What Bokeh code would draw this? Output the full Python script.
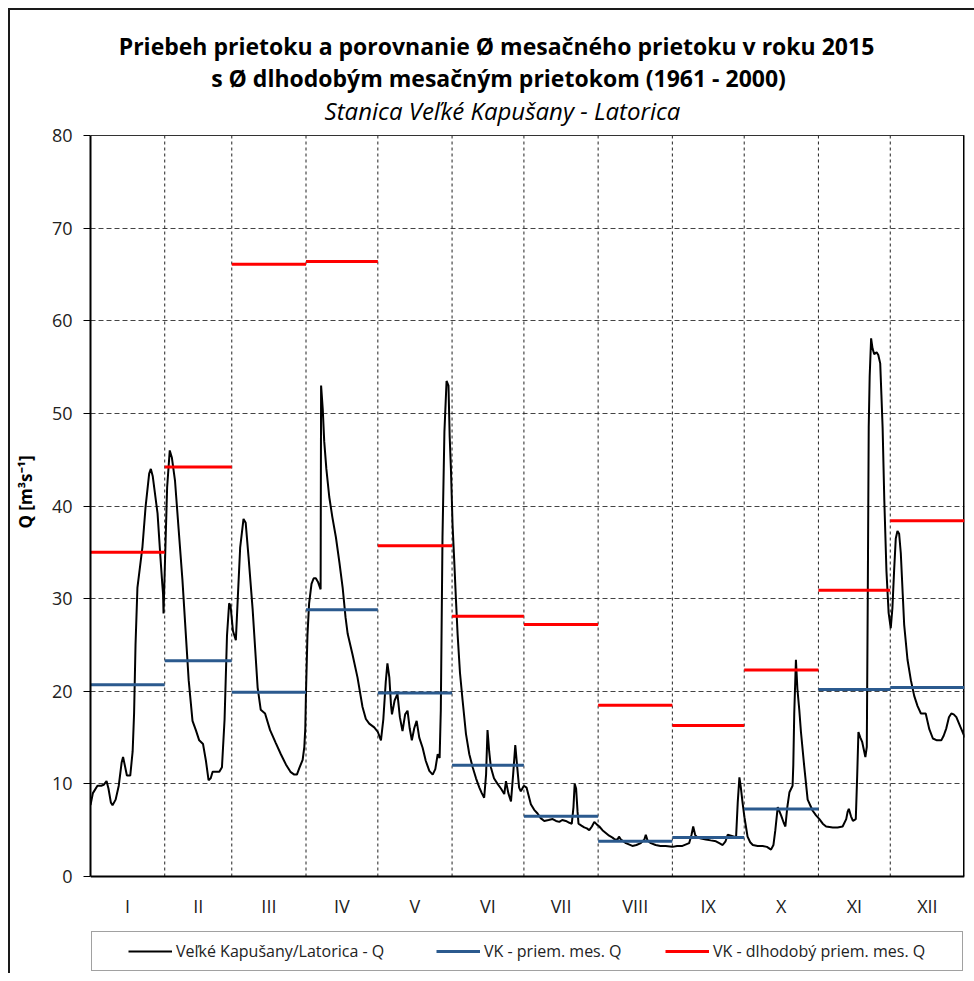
import math
import numpy as np
from bokeh.plotting import figure
from bokeh.models import Range1d, FixedTicker, Label, Legend, LegendItem
from bokeh.embed import file_html
from bokeh.resources import INLINE

# ---------------- data ----------------
months = ["I", "II", "III", "IV", "V", "VI", "VII", "VIII", "IX", "X", "XI", "XII"]
month_days = [31, 28, 31, 30, 31, 30, 31, 31, 30, 31, 30, 31]

# monthly mean discharge 2015 (VK - priem. mes. Q)
q_month_2015 = [20.7, 23.3, 19.9, 28.8, 19.8, 12.0, 6.5, 3.8, 4.2, 7.3, 20.2, 20.4]
# long-term monthly mean discharge 1961-2000 (VK - dlhodobý priem. mes. Q)
q_month_longterm = [35.0, 44.2, 66.1, 66.4, 35.7, 28.1, 27.2, 18.5, 16.3, 22.3, 30.9, 38.4]

# daily discharge hydrograph (day of year, Q)
q_day = [0, 1, 2.9, 4.5, 5.5, 6.7, 7.5, 8.5, 9.2, 10.5, 11.8, 13.0, 13.6, 14.5, 15.2, 16.6, 17.6, 18.2, 18.8,
         19.6, 21.7, 23.0, 24.5, 25.2, 26.0, 28.0, 29.3, 30.0, 30.3, 30.5, 31.0, 32.0, 33.1, 34.0, 35.3, 36.8,
         38.4, 39.6, 41.0, 42.6, 44.0, 45.4, 47.0, 48.2, 49.3, 50.2, 51.0, 53.8, 54.9, 56.0, 57.0, 57.9, 58.5,
         59.5, 60.7, 61.5, 62.5, 63.9, 64.8, 66.0, 67.7, 69.8, 71.1, 72.9, 75.0, 77.4, 79.5, 81.6, 83.5, 85.1,
         86.2, 87.2, 88.6, 89.3, 89.7, 90.0, 90.6, 91.3, 92.3, 93.2, 94.1, 95.0, 96.1, 96.3, 97.0, 97.6, 98.5,
         99.7, 101.0, 102.5, 104.0, 105.3, 106.5, 107.4, 109.4, 111.5, 113.6, 115.0, 116.4, 118.5, 120.0,
         121.3, 122.3, 123.3, 124.0, 124.8, 125.5, 125.9, 127.0, 128.2, 129.2, 130.3, 131.4, 132.4, 133.3,
         134.2, 135.2, 136.2, 137.3, 138.7, 140.0, 141.5, 142.9, 144.0, 145.0, 145.8, 146.3, 147.0, 147.8,
         148.7, 149.5, 150.0, 150.5, 151.2, 151.9, 152.6, 153.3, 154.3, 155.4, 156.8, 158.2, 159.6, 161.0,
         162.4, 163.4, 164.4, 165.2, 165.8, 166.5, 167.2, 168.5, 170.0, 171.4, 172.8, 173.5, 174.5, 175.6,
         176.5, 177.4, 178.0, 179.0, 179.7, 181.0, 182.1, 183.9, 185.3, 186.7, 188.0, 189.5, 191.3, 193.0,
         194.4, 195.8, 197.0, 198.5, 200.0, 201.0, 201.7, 202.2, 202.8, 203.4, 203.8, 205.0, 206.2, 207.3,
         208.3, 209.4, 210.4, 211.5, 212.5, 213.8, 215.2, 216.6, 218.0, 219.0, 220.1, 220.7, 221.5, 223.6,
         226.3, 228.0, 229.8, 231.3, 231.9, 232.6, 234.0, 236.0, 238.0, 240.2, 243.0, 245.0, 247.2, 250.0,
         251.0, 251.7, 252.5, 253.5, 255.0, 257.0, 259.0, 261.2, 262.6, 264.0, 265.2, 266.1, 267.5, 268.9,
         269.6, 270.3, 271.0, 271.6, 272.3, 273.1, 274.4, 275.5, 276.6, 278.6, 280.7, 282.5, 284.2, 285.2,
         286.0, 287.0, 288.4, 289.5, 290.2, 291.0, 291.9, 293.2, 293.5, 293.9, 294.6, 295.2, 296.0, 296.7,
         298.1, 299.5, 301.6, 303.0, 304.4, 305.8, 307.2, 310.0, 312.0, 314.1, 315.6, 316.2, 316.7, 317.6,
         318.4, 319.6, 320.2, 320.7, 321.5, 322.3, 323.6, 324.2, 324.6, 325.0, 325.4, 326.0, 326.6, 327.3,
         328.3, 329.0, 329.8, 330.3, 330.8, 331.5, 332.4, 333.3, 334.2, 334.9, 335.6, 336.3, 337.0, 337.7,
         338.4, 339.2, 339.8, 341.2, 342.6, 344.0, 345.4, 346.8, 348.8, 350.3, 351.8, 353.5, 355.3, 356.3,
         357.4, 358.5, 359.5, 360.5, 361.6, 363.2, 364.7, 365.0]
q_val = [7.7, 9.0, 9.8, 9.8, 9.9, 10.3, 9.5, 8.0, 7.7, 8.3, 9.8, 12.3, 12.9, 11.8, 10.9, 10.9, 13.5, 17.6, 25.0,
         31.2, 35.6, 39.9, 43.5, 44.0, 43.2, 39.2, 34.1, 31.5, 30.5, 28.4, 33.0, 42.0, 46.0, 45.2, 42.7, 37.5,
         32.0, 27.0, 21.2, 16.8, 15.8, 14.7, 14.3, 12.5, 10.4, 10.6, 11.3, 11.3, 11.8, 17.0, 26.0, 29.5, 29.2,
         26.5, 25.5, 30.0, 35.5, 38.6, 38.2, 34.5, 28.9, 20.4, 18.0, 17.6, 15.8, 14.4, 13.2, 12.1, 11.3, 11.0,
         11.0, 11.7, 12.6, 14.0, 16.0, 20.0, 26.0, 29.5, 31.6, 32.2, 32.2, 31.8, 31.0, 53.0, 50.4, 47.0, 44.0,
         41.0, 38.8, 36.6, 33.8, 31.2, 28.0, 26.2, 24.0, 21.5, 18.3, 17.0, 16.5, 16.1, 15.6,
         14.7, 17.0, 21.0, 23.0, 21.5, 18.5, 17.5, 19.0, 19.7, 17.2, 15.7, 17.5, 17.9, 16.0,
         14.7, 16.0, 16.8, 15.0, 13.9, 12.5, 11.4, 11.0, 11.6, 13.2, 12.8, 18.0, 36.6, 48.0,
         53.5, 53.0, 47.5, 44.2, 38.0, 34.1, 30.0, 26.2, 22.0, 19.0, 15.4, 13.2, 11.8, 10.6,
         9.6, 9.0, 8.5, 11.0, 15.8, 13.5, 11.8, 10.6, 10.0, 9.5, 8.9, 10.3, 9.0, 8.1,
         11.0, 14.2, 12.4, 9.6, 9.2, 9.8, 9.6, 7.8, 7.2, 6.8, 6.3, 6.0, 6.1, 6.2,
         6.0, 5.9, 6.1, 6.0, 5.8, 5.7, 7.5, 10.0, 9.5, 7.0, 5.7, 5.5, 5.3, 5.2,
         5.0, 5.4, 5.9, 5.6, 5.4, 5.0, 4.7, 4.4, 4.2, 4.0, 4.0, 4.3, 4.0, 3.6,
         3.3, 3.4, 3.6, 4.0, 4.5, 3.9, 3.6, 3.4, 3.3, 3.3, 3.2, 3.3, 3.3, 3.6,
         4.5, 5.4, 4.5, 4.2, 4.1, 4.0, 3.9, 3.8, 3.6, 3.4, 3.8, 4.5, 4.4, 4.3,
         4.2, 8.0, 10.7, 9.6, 8.0, 6.4, 4.3, 3.7, 3.4, 3.3, 3.3, 3.2, 2.9, 3.4,
         5.0, 7.5, 6.6, 5.8, 5.4, 7.5, 9.1, 9.8, 12.0, 17.6, 23.4, 20.3, 18.0, 15.6,
         11.8, 8.3, 7.1, 6.6, 6.2, 5.7, 5.4, 5.3, 5.3, 5.4, 6.2, 7.0, 7.3, 6.5,
         6.0, 6.2, 11.0, 15.6, 15.0, 14.5, 12.9, 14.0, 30.0, 48.5, 54.0, 58.1, 57.0, 56.4,
         56.6, 56.3, 55.4, 52.0, 48.5, 40.7, 33.0, 28.5, 26.8, 29.0, 33.0, 36.5, 37.3, 37.0,
         34.9, 30.5, 27.2, 23.4, 21.2, 19.5, 18.4, 17.6, 17.6, 15.9, 14.9, 14.7, 14.7, 15.2,
         16.0, 17.2, 17.6, 17.5, 17.2, 16.2, 15.3, 15.0]

y_ticks = [0, 10, 20, 30, 40, 50, 60, 70, 80]
y_min, y_max = 0, 80

title_1 = "Priebeh  prietoku a porovnanie Ø mesačného prietoku v roku 2015"
title_2 = "s Ø dlhodobým  mesačným prietokom (1961 - 2000)"
title_3 = "Stanica Veľké Kapušany - Latorica"
y_label = "Q [m³s⁻¹]"
legend_labels = ["Veľké Kapušany/Latorica - Q", "VK - priem. mes. Q", "VK - dlhodobý priem. mes. Q"]

# ---------------- derived ----------------
bounds = np.cumsum([0] + month_days)
m_start = bounds[:-1].tolist()
m_end = bounds[1:].tolist()
m_center = ((bounds[:-1] + bounds[1:]) / 2).tolist()
n_days = int(bounds[-1])

FONT = "Open Sans"

# layout (pixels): plotting area 741 px tall for 0..80; the frame is extended above and
# below so that the titles and the legend (inside the frame) are not clipped
FRAME_H = 963
PLOT_H = 741
TOP_PAD = 125     # px above the 80 line
BOT_PAD = FRAME_H - PLOT_H - TOP_PAD   # px below the 0 line
ppu = PLOT_H / (y_max - y_min)
y_lo = y_min - BOT_PAD / ppu
y_hi = y_max + TOP_PAD / ppu

p = figure(frame_width=874, frame_height=FRAME_H,
           x_range=Range1d(0, n_days), y_range=Range1d(y_lo, y_hi),
           x_axis_location=None, output_backend="svg", toolbar_location=None,
           min_border_left=78, min_border_right=10, min_border_top=0, min_border_bottom=0)
p.margin = (8, 0, 0, 8)
p.styles = {"border-left": "2px solid #1a1a1a", "border-top": "2px solid #1a1a1a"}
p.background_fill_color = "white"
p.border_fill_color = "white"
p.outline_line_color = None

# y axis
p.yaxis.ticker = FixedTicker(ticks=y_ticks)
p.yaxis.bounds = (y_min, y_max)
p.yaxis.major_label_text_font = FONT
p.yaxis.major_label_text_font_size = "18px"
p.yaxis.major_label_text_color = "#222222"
p.yaxis.major_tick_out = 7
p.yaxis.major_tick_in = 0
p.yaxis.minor_tick_line_color = None
p.yaxis.axis_line_width = 2
p.yaxis.axis_line_color = "black"
p.yaxis.major_tick_line_color = "black"
p.yaxis.major_label_standoff = 11
p.yaxis.axis_label = y_label
p.yaxis.axis_label_text_font = FONT
p.yaxis.axis_label_text_font_style = "bold"
p.yaxis.axis_label_text_font_size = "17px"
p.yaxis.axis_label_text_color = "black"
p.yaxis.axis_label_standoff = 12

# grid
p.xgrid.visible = False
p.ygrid.ticker = FixedTicker(ticks=y_ticks[1:-1])
p.ygrid.grid_line_color = "#444444"
p.ygrid.grid_line_dash = "5 3"
p.ygrid.grid_line_width = 1

# vertical month separators (dashed) limited to the plotting area
p.segment(x0=m_start[1:], y0=y_min, x1=m_start[1:], y1=y_max,
          line_color="#222222", line_width=1, line_dash="3 3")
# plot-area border: bottom axis, top and right edges
p.segment(x0=[0, 0], y0=[y_min, y_max], x1=[n_days, n_days], y1=[y_min, y_max],
          line_color=["black", "#333333"], line_width=[2, 1.2])
p.segment(x0=[n_days], y0=[y_min], x1=[n_days], y1=[y_max], line_color="black", line_width=3)

# month labels below the axis
p.text(x=m_center, y=[y_min - 29 / ppu] * len(months), text=months,
       text_align="center", text_baseline="middle", text_font={"value": FONT},
       text_font_size="18px", text_color="#222222")

# data
r_q = p.line(q_day, q_val, line_color="black", line_width=2)
r_m = p.segment(x0=m_start, y0=q_month_2015, x1=m_end, y1=q_month_2015,
                line_color="#2B5A8E", line_width=3)
r_l = p.segment(x0=m_start, y0=q_month_longterm, x1=m_end, y1=q_month_longterm,
                line_color="#FF0000", line_width=3)
r_none = p.line([], [], line_alpha=0)

# titles (screen units relative to the frame's bottom-left corner)
frame_bottom_img = 973  # page y of frame bottom
for txt, cx, cy, style, size in [(title_1, 497, 45, "bold", "23px"),
                                 (title_2, 499, 77, "bold", "23px"),
                                 (title_3, 500, 110, "italic", "24px")]:
    p.add_layout(Label(x=cx - 88, y=frame_bottom_img - cy, x_units="screen", y_units="screen",
                       text=txt, text_align="center", text_baseline="middle", text_font=FONT,
                       text_font_style=style, text_font_size=size, text_color="black"))

# legend box
box = Legend(items=[LegendItem(label=" ", renderers=[r_none])], location=(1, 2),
             glyph_width=0, glyph_height=38, label_width=870, label_height=38, label_standoff=0,
             padding=0, margin=0, spacing=0, border_line_color="#444444", border_line_width=1,
             background_fill_color="white", label_text_font_size="1px")
p.add_layout(box, "center")

# legend entries
for lab, rend, xpos in [(legend_labels[0], r_q, 38), (legend_labels[1], r_m, 346), (legend_labels[2], r_l, 575)]:
    lg = Legend(items=[LegendItem(label=lab, renderers=[rend])], location=(xpos, 11),
                label_text_font=FONT, label_text_font_size="16px", label_text_color="#222222",
                glyph_width=44, glyph_height=20, label_height=20, label_standoff=4,
                padding=0, margin=0, spacing=0, border_line_color=None,
                background_fill_alpha=0)
    p.add_layout(lg, "center")

open("out.html", "w").write(file_html(p, INLINE))
